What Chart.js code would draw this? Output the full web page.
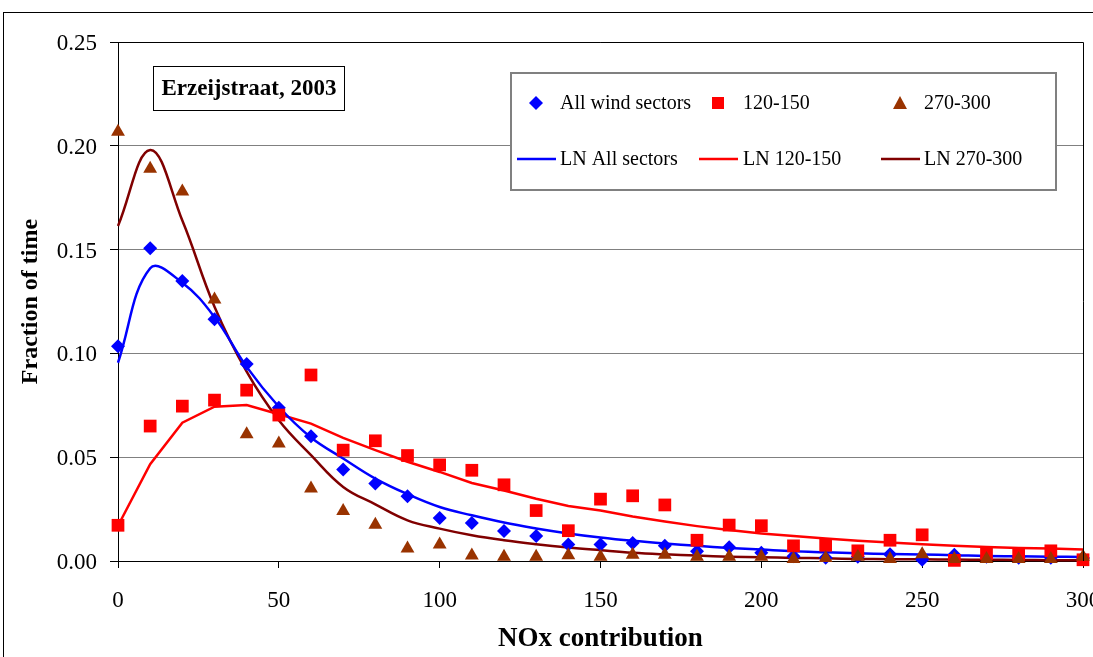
<!DOCTYPE html>
<html>
<head>
<meta charset="utf-8">
<script src="https://cdn.jsdelivr.net/npm/chart.js@4.4.0/dist/chart.umd.min.js"></script>
<style>
	html, body { margin: 0; padding: 0; background: #fff; }
	#c { display: block; }
</style>
</head>
<body>
<canvas id="c" width="1093" height="657"></canvas>
<script>
// NOx contribution classes (x values)
const noxClasses = [0, 10, 20, 30, 40, 50, 60, 70, 80, 90, 100, 110, 120, 130, 140, 150,
	160, 170, 180, 190, 200, 210, 220, 230, 240, 250, 260, 270, 280, 290, 300];

// observed fractions
const allSectors = [0.1035, 0.1506, 0.1349, 0.1164, 0.0949, 0.0738, 0.0601, 0.0441, 0.0373, 0.0312,
	0.0207, 0.0183, 0.0144, 0.0121, 0.0079, 0.0079, 0.0087, 0.0074, 0.0047, 0.0066,
	0.0040, 0.0023, 0.0016, 0.0020, 0.0032, 0.0006, 0.0030, 0.0020, 0.0016, 0.0016, 0.0015];
const sector120 = [0.0172, 0.0650, 0.0746, 0.0775, 0.0823, 0.0703, 0.0896, 0.0534, 0.0579, 0.0508,
	0.0463, 0.0437, 0.0367, 0.0243, 0.0146, 0.0298, 0.0314, 0.0270, 0.0100, 0.0173,
	0.0170, 0.0073, 0.0076, 0.0049, 0.0100, 0.0126, 0.0003, 0.0036, 0.0032, 0.0049, 0.0006];
const sector270 = [0.2068, 0.1890, 0.1780, 0.1260, 0.0610, 0.0566, 0.0349, 0.0241, 0.0175, 0.0060,
	0.0080, 0.0027, 0.0020, 0.0020, 0.0028, 0.0020, 0.0030, 0.0030, 0.0020, 0.0020,
	0.0020, 0.0010, 0.0015, 0.0020, 0.0010, 0.0032, 0.0010, 0.0010, 0.0010, 0.0010, 0.0020];

// lognormal fits
const lnAll = [0.0955, 0.1410, 0.1340, 0.1175, 0.0935, 0.0743, 0.0595, 0.0494, 0.0397, 0.0322,
	0.0260, 0.0220, 0.0185, 0.0157, 0.0133, 0.0113, 0.0097, 0.0084, 0.0073, 0.0063,
	0.0055, 0.0047, 0.0042, 0.0037, 0.0034, 0.0031, 0.0028, 0.0024, 0.0023, 0.0021, 0.0019];
const ln120 = [0.0170, 0.0466, 0.0666, 0.0743, 0.0751, 0.0707, 0.0662, 0.0593, 0.0534, 0.0478,
	0.0429, 0.0376, 0.0340, 0.0300, 0.0265, 0.0243, 0.0214, 0.0190, 0.0168, 0.0149,
	0.0133, 0.0120, 0.0108, 0.0097, 0.0089, 0.0081, 0.0073, 0.0068, 0.0063, 0.0060, 0.0055];
const ln270 = [0.1614, 0.1980, 0.1640, 0.1225, 0.0912, 0.0678, 0.0510, 0.0357, 0.0273, 0.0196,
	0.0156, 0.0124, 0.0100, 0.0081, 0.0065, 0.0052, 0.0040, 0.0032, 0.0026, 0.0021,
	0.0018, 0.0015, 0.0013, 0.0010, 0.0009, 0.0008, 0.0007, 0.0006, 0.0005, 0.0004, 0.0004];

const yTicks = [0, 0.05, 0.10, 0.15, 0.20, 0.25];
const xTicks = [0, 50, 100, 150, 200, 250, 300];
const chartTitle = 'Erzeijstraat, 2003';

const SERIF = '"Liberation Serif", "Times New Roman", serif';

const toPoints = (values) => noxClasses.map((x, i) => ({ x: x, y: values[i] }));

function markerSet(label, values, style, color, radius, order) {
	return {
		label: label,
		data: toPoints(values),
		showLine: false,
		pointStyle: style,
		pointRadius: radius,
		pointBackgroundColor: color,
		pointBorderColor: color,
		pointBorderWidth: 0,
		borderColor: color,
		backgroundColor: color,
		clip: false,
		order: order,
	};
}

function fitLine(label, values, color, tension) {
	return {
		label: label,
		data: toPoints(values),
		borderColor: color,
		backgroundColor: color,
		borderWidth: 2.5,
		pointRadius: 0,
		tension: tension,
		clip: false,
		order: 10,
	};
}

// frame, plot box and the title box
const framePlugin = {
	id: 'frame',
	beforeDraw(chart) {
		const ctx = chart.ctx;
		ctx.save();
		ctx.fillStyle = '#fff';
		ctx.fillRect(0, 0, chart.width, chart.height);
		ctx.strokeStyle = '#000';
		ctx.lineWidth = 1;
		ctx.strokeRect(3.5, 12.5, 1300, 800);
		ctx.restore();
	},
	afterDraw(chart) {
		const ctx = chart.ctx;
		const a = chart.chartArea;
		ctx.save();
		ctx.strokeStyle = '#000';
		ctx.lineWidth = 1;
		ctx.beginPath();
		ctx.moveTo(a.left, a.top + 0.5);
		ctx.lineTo(a.right + 0.5, a.top + 0.5);
		ctx.lineTo(a.right + 0.5, a.bottom);
		ctx.stroke();

		// title box
		ctx.fillStyle = '#fff';
		ctx.fillRect(153, 66, 191, 44);
		ctx.strokeRect(153.5, 66.5, 191, 44);
		ctx.fillStyle = '#000';
		ctx.font = 'bold 23px ' + SERIF;
		ctx.textAlign = 'center';
		ctx.textBaseline = 'middle';
		ctx.fillText(chartTitle, 249, 89);
		ctx.restore();
	},
};

// 3x2 legend box inside the plot
const boxLegend = {
	id: 'boxLegend',
	afterDraw(chart) {
		const ctx = chart.ctx;
		const ds = chart.data.datasets;
		const markerX = [536, 718, 900];
		const textX = [560, 743, 924];
		const rowY = [103, 159];

		ctx.save();
		ctx.fillStyle = '#fff';
		ctx.fillRect(511, 73, 545, 117);
		ctx.strokeStyle = '#808080';
		ctx.lineWidth = 2;
		ctx.strokeRect(511, 73, 545, 117);

		ctx.font = '20px ' + SERIF;
		ctx.textAlign = 'left';
		ctx.textBaseline = 'middle';

		ds.forEach((d, i) => {
			const col = i % 3;
			const y = rowY[i < 3 ? 0 : 1];
			const cx = markerX[col];
			ctx.fillStyle = d.borderColor;
			ctx.strokeStyle = d.borderColor;
			if (i >= 3) {
				ctx.lineWidth = 2.5;
				ctx.beginPath();
				ctx.moveTo(cx - 19, y);
				ctx.lineTo(cx + 20, y);
				ctx.stroke();
			} else if (d.pointStyle === 'rectRot') {
				ctx.beginPath();
				ctx.moveTo(cx, y - 7);
				ctx.lineTo(cx + 7, y);
				ctx.lineTo(cx, y + 7);
				ctx.lineTo(cx - 7, y);
				ctx.closePath();
				ctx.fill();
			} else if (d.pointStyle === 'rect') {
				ctx.fillRect(cx - 6, y - 6, 12, 12);
			} else {
				ctx.beginPath();
				ctx.moveTo(cx, y - 7);
				ctx.lineTo(cx + 7, y + 6);
				ctx.lineTo(cx - 7, y + 6);
				ctx.closePath();
				ctx.fill();
			}
			ctx.fillStyle = '#000';
			ctx.fillText(d.label, textX[col], y + 1);
		});
		ctx.restore();
	},
};

Chart.defaults.font.family = SERIF;
Chart.defaults.color = '#000';

new Chart(document.getElementById('c'), {
	type: 'line',
	data: {
		datasets: [
			markerSet('All wind sectors', allSectors, 'rectRot', '#0000ff', 7, 3),
			markerSet('120-150', sector120, 'rect', '#ff0000', 9, 2),
			markerSet('270-300', sector270, 'triangle', '#993300', 8, 1),
			fitLine('LN All sectors', lnAll, '#0000ff', 0.4),
			fitLine('LN 120-150', ln120, '#ff0000', 0),
			fitLine('LN 270-300', ln270, '#800000', 0.4),
		],
	},
	options: {
		responsive: false,
		animation: false,
		layout: { padding: { left: 0, top: 42, right: 10, bottom: 0 } },
		plugins: {
			legend: { display: false },
			tooltip: { enabled: false },
		},
		scales: {
			x: {
				type: 'linear',
				min: 0,
				max: 300,
				afterBuildTicks: (scale) => { scale.ticks = xTicks.map((v) => ({ value: v })); },
				afterFit: (scale) => {
					scale.height = 96;
					scale.paddingLeft = 0;
					scale.paddingRight = 0;
				},
				grid: { drawOnChartArea: false, tickLength: 7, tickColor: '#000' },
				border: { color: '#000', width: 1 },
				ticks: { font: { size: 23 }, padding: 19, maxRotation: 0, autoSkip: false },
				title: {
					display: true,
					text: 'NOx contribution',
					font: { size: 27, weight: 'bold' },
					padding: { top: 0, bottom: 2 },
				},
			},
			y: {
				min: 0,
				max: 0.25,
				afterBuildTicks: (scale) => { scale.ticks = yTicks.map((v) => ({ value: v })); },
				afterFit: (scale) => {
					scale.width = 118;
					scale.paddingTop = 0;
					scale.paddingBottom = 0;
				},
				grid: { color: '#808080', tickLength: 8, tickColor: '#000' },
				border: { color: '#000', width: 1 },
				ticks: {
					font: { size: 23 },
					padding: 13,
					labelOffset: 2,
					callback: (v) => Number(v).toFixed(2),
				},
				title: {
					display: true,
					text: 'Fraction of time',
					font: { size: 24, weight: 'bold' },
					padding: { top: 16, bottom: 0 },
				},
			},
		},
	},
	plugins: [framePlugin, boxLegend],
});
</script>
</body>
</html>
